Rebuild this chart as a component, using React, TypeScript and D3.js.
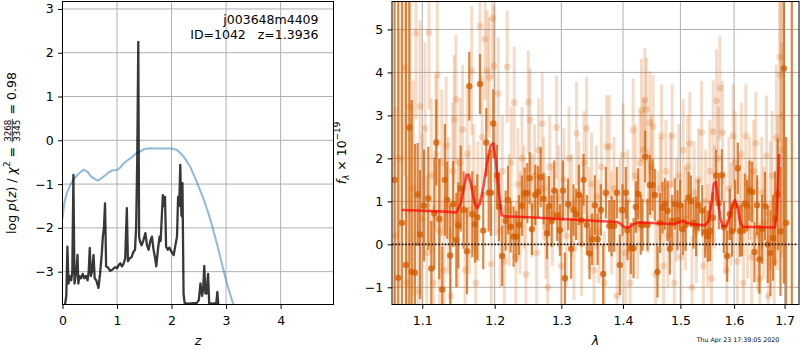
import React, { useEffect, useRef } from "react";
import * as d3 from "d3";

const FONT = "'DejaVu Sans', Verdana, sans-serif";
const FS = 12.5;
const ORANGE = "#d55e00";

// ---------- tick values ----------
const zTicks = [0, 1, 2, 3, 4];
const pzTicks = [-3, -2, -1, 0, 1, 2, 3];
const lamTicks = [1.1, 1.2, 1.3, 1.4, 1.5, 1.6, 1.7];
const fluxTicks = [-1, 0, 1, 2, 3, 4, 5];

// ---------- left panel: log p(z) ----------
const zPz = [
  0.03, 0.05, 0.07, 0.09, 0.11, 0.13, 0.16, 0.18, 0.2, 0.22,
  0.24, 0.26, 0.275, 0.29, 0.31, 0.34, 0.37, 0.4, 0.43, 0.46,
  0.48, 0.5, 0.52, 0.54, 0.57, 0.59, 0.62, 0.66, 0.69, 0.72,
  0.74, 0.76, 0.78, 0.8, 0.83, 0.875, 0.92, 0.96, 1.0, 1.03,
  1.06, 1.09, 1.12, 1.15, 1.18, 1.2, 1.23, 1.27, 1.3, 1.33,
  1.35, 1.37, 1.39, 1.405, 1.42, 1.45, 1.48, 1.52, 1.55, 1.58,
  1.61, 1.64, 1.67, 1.7, 1.72, 1.75, 1.78, 1.8, 1.84, 1.86,
  1.88, 1.9, 1.93, 1.96, 2.0, 2.04, 2.07, 2.1, 2.12, 2.14,
  2.16, 2.18, 2.19, 2.2, 2.22, 2.24, 2.3, 2.4, 2.46, 2.5,
  2.53, 2.56, 2.58, 2.6, 2.62, 2.64, 2.67, 2.69, 2.75, 2.82,
  2.84, 2.86, 2.9,
];
const logPz = [
  -3.9, -3.72, -3.55, -2.43, -3.27, -3.1, -3.2, -3.0, -0.79, -3.27,
  -3.1, -2.9, -2.62, -3.27, -3.1, -3.15, -3.05, -3.15, -3.1, -3.2,
  -3.0, -2.46, -3.1, -3.0, -2.62, -3.15, -3.2, -3.37, -3.04, -2.6,
  -2.2, -2.0, -1.44, -2.88, -2.9, -2.98, -2.95, -2.9, -2.92, -2.85,
  -2.81, -2.88, -2.82, -2.7, -1.55, -2.76, -2.7, -2.66, -2.55, -2.5,
  -2.0, -0.5, 2.25, -2.2, -2.3, -2.4, -2.3, -2.12, -2.4, -2.5,
  -2.3, -2.2, -2.5, -2.7, -2.88, -2.5, -2.2, -2.3, -1.25, -1.5,
  -1.29, -2.43, -2.5, -2.45, -2.55, -2.62, -2.4, -2.2, -1.29, -1.5,
  -0.56, -1.7, -1.74, -0.98, -3.5, -3.72, -3.73, -3.72, -3.72, -3.65,
  -3.27, -3.55, -3.4, -2.87, -3.5, -3.5, -3.05, -3.72, -3.73, -3.72,
  -3.46, -3.8, -4.5,
];

// ---------- left panel: chi2 curve ----------
const zChi = [
  0.0, 0.03, 0.08, 0.17, 0.23, 0.3, 0.386, 0.46, 0.52, 0.57,
  0.65, 0.72, 0.784, 0.85, 0.907, 0.998, 1.06, 1.12, 1.2, 1.27,
  1.35, 1.43, 1.5, 1.6, 1.73, 1.85, 2.0, 2.1, 2.22, 2.34,
  2.47, 2.59, 2.71, 2.83, 2.925, 3.016, 3.09, 3.17, 3.25,
];
const chiCurve = [
  -1.8, -1.45, -1.2, -0.95, -0.85, -0.76, -0.67, -0.72, -0.82, -0.87,
  -0.92, -0.86, -0.8, -0.73, -0.69, -0.68, -0.62, -0.53, -0.45, -0.39,
  -0.3, -0.25, -0.2, -0.18, -0.19, -0.19, -0.19, -0.22, -0.37, -0.6,
  -0.97, -1.35, -1.8, -2.35, -2.83, -3.27, -3.58, -3.9, -4.2,
];

// ---------- right panel: dark (binned) spectrum ----------
const lamDark = [
  1.064, 1.0687, 1.0735, 1.0787, 1.083, 1.0861, 1.0904, 1.0939, 1.097, 1.1022,
  1.108, 1.112, 1.116, 1.1187, 1.1227, 1.1267, 1.1303, 1.1335, 1.1376, 1.1417,
  1.1459, 1.1486, 1.152, 1.156, 1.1607, 1.1639, 1.1681, 1.1719, 1.1751, 1.179,
  1.1836, 1.1879, 1.1913, 1.1946, 1.1979, 1.2033, 1.2061, 1.2109, 1.2159, 1.2193,
  1.2232, 1.2276, 1.2315, 1.2355, 1.2399, 1.244, 1.2479, 1.2515, 1.2549, 1.2599,
  1.264, 1.2681, 1.2727, 1.2777, 1.2808, 1.285, 1.289, 1.2936, 1.2978, 1.3025,
  1.3056, 1.3108, 1.3155, 1.3193, 1.3234, 1.3277, 1.332, 1.3352, 1.3405, 1.3449,
  1.3491, 1.3535, 1.3579, 1.3633, 1.3671, 1.3715, 1.377, 1.3809, 1.3852, 1.3897,
  1.3947, 1.3992, 1.4048, 1.4077, 1.4133, 1.4179, 1.4218, 1.4257, 1.4303, 1.4333,
  1.4378, 1.4419, 1.4459, 1.4506, 1.4546, 1.4593, 1.4639, 1.4681, 1.4722, 1.477,
  1.4811, 1.4852, 1.49, 1.4948, 1.4995, 1.5044, 1.5093, 1.5147, 1.5189, 1.5238,
  1.5286, 1.533, 1.5397, 1.5452, 1.5502, 1.5545, 1.5596, 1.5657, 1.5708, 1.5765,
  1.5803, 1.5866, 1.5917, 1.5961, 1.6019, 1.6071, 1.6115, 1.6154, 1.6206, 1.6251,
  1.6298, 1.6349, 1.6396, 1.6447, 1.6495, 1.6547, 1.6606, 1.666, 1.6714, 1.6766,
  1.6807, 1.6861, 1.6916, 1.6984, 1.7031, 1.7148,
];
const fluxDark = [
  1.5, -0.78, 0.5, -0.48, 2.72, -0.64, -0.66, 1.16, 0.23, 0.9,
  1.07, -0.56, 0.72, 2.37, 0.59, -1.05, 1.5, 1.03, -0.26, 0.94,
  0.1, 0.44, 1.3, 0.8, -0.16, 3.68, 0.7, 0.47, 0.63, 3.73,
  0.32, 2.37, 1.2, 1.2, 2.81, 1.61, 0.87, -0.27, 0.55, 1.03,
  0.41, 0.18, 0.18, 0.45, 0.9, 1.19, 1.19, 1.54, 0.35, 1.15,
  1.22, 1.56, 1.06, 0.26, 0.89, 0.54, 1.25, 0.68, 0.33, 1.25,
  -0.79, 0.93, -0.1, 0.8, 0.7, 1.15, 0.56, 1.5, 0.45, -0.21,
  0.12, 0.91, 0.12, 0.8, -0.69, 1.2, 0.43, 0.42, 0.43, 1.2,
  -0.48, 0.8, 1.2, 0.33, -0.09, -0.09, 0.87, 1.17, 0.46, 0.45,
  2.04, 0.45, 1.38, 1.38, 1.15, -0.64, 0.5, 0.85, 0.94, 0.78,
  -0.1, 0.55, 0.94, 0.56, 0.91, 0.35, 0.45, 1.09, 1.0, 0.5,
  0.42, 0.91, 0.78, 0.29, 0.19, 0.31, 0.62, 1.6, 0.95, 1.61,
  0.4, -0.27, 0.7, 0.31, 0.9, 1.77, 0.31, 0.32, 0.95, 0.9,
  1.25, 1.22, -0.18, 0.91, -0.35, 0.35, 0.89, 0.0, -0.2, 0.15,
  0.6, 1.16, 0.3, 4.09, 0.5, 6.5,
];
const errDark = [
  8, 8, 8, 8, 6, 4, 3, 1.2, 1.5, 1.3,
  1.2, 1.1, 1.3, 1.0, 1.4, 1.0, 1.3, 0.9, 1.2, 1.0,
  1.1, 1.0, 1.0, 0.9, 1.0, 0.8, 1.0, 0.9, 1.0, 0.7,
  0.9, 0.8, 0.9, 1.0, 0.8, 0.7, 0.8, 0.7, 0.7, 0.8,
  0.6, 0.7, 0.6, 0.7, 0.7, 0.6, 0.7, 0.6, 0.6, 0.7,
  0.6, 0.7, 0.6, 0.6, 0.7, 0.6, 0.7, 0.6, 0.6, 0.7,
  0.6, 0.6, 0.7, 0.6, 0.6, 0.7, 0.6, 0.6, 0.7, 0.6,
  0.6, 0.7, 0.6, 0.6, 0.7, 0.6, 0.6, 0.7, 0.6, 0.6,
  0.7, 0.6, 0.6, 0.7, 0.6, 0.7, 0.6, 0.6, 0.7, 0.6,
  0.6, 0.6, 0.7, 0.6, 0.6, 0.6, 0.7, 0.6, 0.6, 0.7,
  0.6, 0.6, 0.6, 0.7, 0.6, 0.6, 0.6, 0.6, 0.6, 0.6,
  0.7, 0.6, 0.6, 0.6, 0.6, 0.7, 0.6, 0.6, 0.6, 0.6,
  0.6, 0.6, 0.6, 0.6, 0.6, 0.6, 0.6, 0.6, 0.7, 0.6,
  0.7, 0.7, 0.7, 0.7, 0.8, 0.8, 0.8, 0.9, 1.0, 1.0,
  1.1, 1.3, 1.5, 5, 2.0, 9,
];

// ---------- right panel: light (unbinned) spectrum ----------
const lamLight = [
  1.065, 1.07, 1.0774, 1.08, 1.0839, 1.088, 1.0917, 1.095, 1.097, 1.1,
  1.1036, 1.106, 1.1089, 1.112, 1.115, 1.118, 1.12, 1.123, 1.126, 1.129,
  1.132, 1.135, 1.138, 1.141, 1.143, 1.1454, 1.148, 1.151, 1.1547, 1.158,
  1.161, 1.164, 1.1672, 1.17, 1.173, 1.176, 1.179, 1.182, 1.1861, 1.1893,
  1.1922, 1.195, 1.1971, 1.199, 1.202, 1.2051, 1.208, 1.211, 1.214, 1.2182,
  1.221, 1.224, 1.2285, 1.231, 1.234, 1.237, 1.24, 1.243, 1.246, 1.2494,
  1.252, 1.255, 1.259, 1.262, 1.265, 1.2705, 1.273, 1.276, 1.279, 1.282,
  1.286, 1.2926, 1.296, 1.3, 1.304, 1.308, 1.312, 1.316, 1.32, 1.3241,
  1.328, 1.332, 1.336, 1.3401, 1.344, 1.348, 1.352, 1.356, 1.36, 1.364,
  1.369, 1.3728, 1.377, 1.381, 1.385, 1.39, 1.395, 1.4002, 1.404, 1.408,
  1.412, 1.4172, 1.421, 1.425, 1.429, 1.4315, 1.435, 1.4372, 1.44, 1.443,
  1.4459, 1.449, 1.4516, 1.456, 1.46, 1.464, 1.4664, 1.47, 1.474, 1.478,
  1.482, 1.4852, 1.489, 1.493, 1.497, 1.501, 1.5049, 1.509, 1.513, 1.5171,
  1.521, 1.525, 1.529, 1.533, 1.5386, 1.542, 1.546, 1.55, 1.554, 1.557,
  1.5602, 1.563, 1.5666, 1.57, 1.5728, 1.5779, 1.582, 1.586, 1.59, 1.594,
  1.598, 1.602, 1.606, 1.61, 1.614, 1.618, 1.6226, 1.626, 1.63, 1.634,
  1.638, 1.6422, 1.646, 1.65, 1.654, 1.658, 1.6634, 1.667, 1.671, 1.675,
  1.679, 1.6835, 1.686, 1.6902, 1.6915, 1.694, 1.696,
];
const fluxLight = [
  0.2, 2.0, 4.1, -0.9, 3.2, 1.3, 4.91, -1.1, 3.21, 0.6,
  2.7, -0.2, 4.93, 1.6, -0.9, 2.1, 3.94, 0.3, 1.9, -0.6,
  2.3, 0.9, -1.2, 1.7, 2.9, 3.37, 0.5, 1.9, 2.67, -0.6,
  2.1, 0.8, 4.04, 1.3, -0.9, 1.0, 5.08, 2.5, 4.77, 4.04,
  3.88, -0.46, 5.26, 4.15, 1.5, 3.51, 0.3, 1.7, -0.4, 4.13,
  0.8, 1.9, 3.3, -0.3, 1.4, 0.5, 2.0, 1.1, -0.7, 3.31,
  2.89, 0.9, 1.6, -0.2, 2.2, 2.81, 1.3, 0.4, -1.0, 1.8,
  0.7, 2.72, 1.1, -0.5, 1.5, 0.2, 2.0, 0.9, -0.1, 2.58,
  1.2, 0.0, 1.9, 2.7, 0.6, 1.4, -0.6, 1.1, 0.3, 1.8,
  -0.9, 2.27, 2.27, 0.5, 1.3, -1.2, 0.8, 2.08, -0.2, 1.0,
  -0.9, 2.66, 1.6, 0.4, 1.9, 3.12, 2.2, 3.36, 3.14, 1.0,
  2.83, 1.8, 2.74, -0.7, 0.5, 1.3, 2.52, -0.5, 1.7, 0.2,
  1.4, 2.52, -0.9, 0.8, 1.6, -0.3, 2.19, 0.6, 1.8, 2.35,
  -1.0, 1.2, 0.3, 1.5, 2.6, -0.5, 1.0, 0.2, 1.7, -0.8,
  2.62, 1.1, 3.34, 2.0, 3.64, 2.6, 0.5, -0.6, 1.3, 0.7,
  2.52, 1.9, -0.4, 0.9, 2.1, -0.9, 2.52, 0.4, 1.3, -0.3,
  1.7, 2.35, 0.2, -0.8, 1.2, 0.5, 2.06, -1.2, 0.9, 1.6,
  -0.4, 2.48, 1.2, 4.36, 3.94, 2.2, 3.0,
];
const errLight = [
  3.0, 3.0, 2.5, 2.5, 2.5, 2.5, 2.0, 2.0, 2.0, 2.0,
  2.0, 1.8, 1.8, 1.8, 1.8, 1.8, 1.7, 1.7, 1.7, 1.6,
  1.6, 1.6, 1.6, 1.6, 1.5, 1.5, 1.5, 1.5, 1.5, 1.5,
  1.5, 1.5, 1.5, 1.5, 1.4, 1.4, 1.4, 1.4, 1.4, 1.4,
  1.4, 1.4, 1.4, 1.4, 1.3, 1.3, 1.3, 1.3, 1.3, 1.3,
  1.3, 1.3, 1.3, 1.3, 1.3, 1.2, 1.2, 1.2, 1.2, 1.2,
  1.2, 1.2, 1.2, 1.2, 1.2, 1.2, 1.2, 1.2, 1.2, 1.2,
  1.2, 1.2, 1.2, 1.2, 1.2, 1.2, 1.2, 1.2, 1.2, 1.2,
  1.2, 1.2, 1.2, 1.2, 1.2, 1.2, 1.2, 1.2, 1.2, 1.2,
  1.2, 1.2, 1.2, 1.2, 1.2, 1.2, 1.2, 1.2, 1.2, 1.2,
  1.2, 1.2, 1.2, 1.2, 1.2, 1.2, 1.2, 1.2, 1.2, 1.2,
  1.2, 1.2, 1.2, 1.2, 1.2, 1.2, 1.2, 1.2, 1.2, 1.2,
  1.2, 1.2, 1.2, 1.2, 1.2, 1.2, 1.2, 1.2, 1.2, 1.2,
  1.2, 1.2, 1.2, 1.2, 1.2, 1.2, 1.2, 1.2, 1.2, 1.2,
  1.2, 1.2, 1.2, 1.2, 1.2, 1.2, 1.2, 1.2, 1.2, 1.2,
  1.2, 1.2, 1.2, 1.2, 1.2, 1.2, 1.2, 1.2, 1.2, 1.2,
  1.2, 1.2, 1.3, 1.3, 1.3, 1.3, 1.4, 1.4, 1.5, 1.5,
  1.6, 1.7, 1.8, 2.0, 2.2, 2.5, 3.0,
];

// ---------- right panel: model ----------
const lamModel = [
  1.073, 1.1, 1.13, 1.146, 1.152, 1.157, 1.16, 1.163, 1.167, 1.171,
  1.175, 1.179, 1.184, 1.189, 1.194, 1.198, 1.202, 1.206, 1.21, 1.215,
  1.25, 1.3, 1.35, 1.39, 1.396, 1.402, 1.41, 1.418, 1.425, 1.46,
  1.49, 1.498, 1.505, 1.512, 1.52, 1.545, 1.552, 1.557, 1.561, 1.565,
  1.569, 1.574, 1.578, 1.585, 1.592, 1.597, 1.602, 1.607, 1.612, 1.617,
  1.65, 1.68, 1.684, 1.687, 1.689,
];
const fluxModel = [
  0.8, 0.78, 0.76, 0.74, 0.95, 1.35, 1.62, 1.62, 1.35, 0.98,
  0.84, 0.95, 1.35, 1.9, 2.3, 2.35, 1.9, 1.2, 0.68, 0.65,
  0.63, 0.59, 0.55, 0.52, 0.48, 0.4, 0.39, 0.47, 0.51, 0.49,
  0.47, 0.52, 0.55, 0.5, 0.47, 0.44, 0.55, 0.95, 1.4, 1.45,
  1.1, 0.6, 0.42, 0.42, 0.65, 0.95, 1.03, 0.85, 0.5, 0.41,
  0.4, 0.39, 0.7, 1.5, 2.1,
];

type Piece =
  | { t: string; it?: boolean; sc?: number; dy?: number }
  | { num: string; den: string };

function mathLabel(svg: any, pieces: Piece[], cx: number, cy: number) {
  const outer = svg.append("g").attr("transform", `translate(${cx},${cy}) rotate(-90)`);
  const inner = outer.append("g");
  let x = 0;
  for (const p of pieces) {
    if ("num" in p) {
      const sf = FS * 0.7;
      const axisY = -0.3 * FS;
      const tn = inner.append("text").text(p.num).attr("font-size", sf).attr("font-family", FONT);
      const td = inner.append("text").text(p.den).attr("font-size", sf).attr("font-family", FONT);
      const wn = (tn.node() as SVGTextElement).getComputedTextLength();
      const wd = (td.node() as SVGTextElement).getComputedTextLength();
      const w = Math.max(wn, wd);
      const pad = 1.2;
      tn.attr("x", x + pad + (w - wn) / 2).attr("y", axisY - 1.6);
      td.attr("x", x + pad + (w - wd) / 2).attr("y", axisY + 1.6 + 0.73 * sf);
      inner.append("line").attr("x1", x + pad * 0.5).attr("x2", x + w + pad * 1.5)
        .attr("y1", axisY).attr("y2", axisY).attr("stroke", "#000").attr("stroke-width", 0.8);
      x += w + 2 * pad;
    } else {
      const fs = FS * (p.sc ?? 1);
      const t = inner.append("text").text(p.t).attr("x", x).attr("y", p.dy ?? 0)
        .attr("font-size", fs).attr("font-family", FONT)
        .attr("font-style", p.it ? "italic" : "normal")
        .style("white-space", "pre");
      x += (t.node() as SVGTextElement).getComputedTextLength();
    }
  }
  inner.attr("transform", `translate(${-x / 2},0)`);
}

export default function App() {
  const ref = useRef<SVGSVGElement | null>(null);

  useEffect(() => {
    const node = ref.current;
    if (!node) return;
    const svg = d3.select(node);
    svg.selectAll("*").remove();
    svg.append("rect").attr("width", 800).attr("height", 350).attr("fill", "#fff");
    const defs = svg.append("defs");
    const gridColor = "#b0b0b0";

    const addClip = (id: string, b: any) =>
      defs.append("clipPath").attr("id", id).append("rect")
        .attr("x", b.x0).attr("y", b.y0).attr("width", b.x1 - b.x0).attr("height", b.y1 - b.y0);

    const styleAxis = (g: any) => {
      g.select(".domain").remove();
      g.attr("font-family", FONT).attr("font-size", FS);
      g.selectAll("text").attr("fill", "#000");
      g.selectAll("line").attr("stroke", "#000").attr("stroke-width", 1);
    };

    // ================= LEFT PANEL =================
    const BL = { x0: 62.5, x1: 333.5, y0: 1.5, y1: 304.5 };
    const xL = d3.scaleLinear().domain([0, 4.97]).range([BL.x0, BL.x1]);
    const yL = d3.scaleLinear().domain([-3.75, 3.17]).range([BL.y1, BL.y0]);
    addClip("clipL", BL);
    const gl = svg.append("g");
    const gridL = gl.append("g");
    zTicks.forEach((t) => gridL.append("line").attr("x1", xL(t)).attr("x2", xL(t)).attr("y1", BL.y0).attr("y2", BL.y1));
    pzTicks.forEach((t) => gridL.append("line").attr("y1", yL(t)).attr("y2", yL(t)).attr("x1", BL.x0).attr("x2", BL.x1));
    gridL.selectAll("line").attr("stroke", gridColor).attr("stroke-width", 1);

    const dataL = gl.append("g").attr("clip-path", "url(#clipL)");
    const chiLine = d3.line<number>().x((_, i) => xL(zChi[i])).y((d) => yL(d));
    dataL.append("path").attr("d", chiLine(chiCurve)).attr("fill", "none")
      .attr("stroke", "#1f77b4").attr("stroke-opacity", 0.5).attr("stroke-width", 2);
    const pzLine = d3.line<number>().x((_, i) => xL(zPz[i])).y((d) => yL(d));
    dataL.append("path").attr("d", pzLine(logPz)).attr("fill", "none")
      .attr("stroke", "#000").attr("stroke-opacity", 0.78).attr("stroke-width", 2.3)
      .attr("stroke-linejoin", "round");

    gl.append("g").attr("transform", `translate(0,${BL.y1})`)
      .call(d3.axisBottom(xL).tickValues(zTicks).tickSize(4.4).tickPadding(7.2).tickFormat(d3.format("d")) as any)
      .call(styleAxis);
    gl.append("g").attr("transform", `translate(${BL.x0},0)`)
      .call(d3.axisLeft(yL).tickValues(pzTicks).tickSize(4.4).tickPadding(4.4).tickFormat(d3.format("d")) as any)
      .call(styleAxis);
    gl.append("rect").attr("x", BL.x0).attr("y", BL.y0).attr("width", BL.x1 - BL.x0).attr("height", BL.y1 - BL.y0)
      .attr("fill", "none").attr("stroke", "#000").attr("stroke-width", 1);

    gl.append("text").attr("x", 318.5).attr("y", 24).attr("text-anchor", "end")
      .attr("font-family", FONT).attr("font-size", FS).text("j003648m4409");
    gl.append("text").attr("x", 318.5).attr("y", 39).attr("text-anchor", "end")
      .attr("font-family", FONT).attr("font-size", FS).style("white-space", "pre").text("ID=1042   z=1.3936");

    gl.append("text").attr("x", (BL.x0 + BL.x1) / 2).attr("y", 345).attr("text-anchor", "middle")
      .attr("font-family", FONT).attr("font-size", FS).attr("font-style", "italic").text("z");

    mathLabel(svg, [
      { t: "log " }, { t: "p", it: true }, { t: "(" }, { t: "z", it: true }, { t: ") / " },
      { t: "χ", it: true }, { t: "2", sc: 0.7, dy: -0.45 * FS }, { t: " = " },
      { num: "3268", den: "3345" }, { t: " = 0.98" },
    ], 16, 153);

    // ================= RIGHT PANEL =================
    const BR = { x0: 392, x1: 799, y0: 1.5, y1: 304.5 };
    const xR = d3.scaleLog().domain([1.0607, 1.7297]).range([BR.x0, BR.x1]);
    const yR = d3.scaleLinear().domain([-1.4, 5.65]).range([BR.y1, BR.y0]);
    addClip("clipR", BR);
    const gr = svg.append("g");
    const gridR = gr.append("g");
    lamTicks.forEach((t) => gridR.append("line").attr("x1", xR(t)).attr("x2", xR(t)).attr("y1", BR.y0).attr("y2", BR.y1));
    fluxTicks.forEach((t) => gridR.append("line").attr("y1", yR(t)).attr("y2", yR(t)).attr("x1", BR.x0).attr("x2", BR.x1));
    gridR.selectAll("line").attr("stroke", gridColor).attr("stroke-width", 1);

    const dataR = gr.append("g").attr("clip-path", "url(#clipR)");
    const gLight = dataR.append("g");
    lamLight.forEach((l, i) => {
      const x = xR(l);
      gLight.append("line").attr("x1", x).attr("x2", x)
        .attr("y1", yR(fluxLight[i] - errLight[i])).attr("y2", yR(fluxLight[i] + errLight[i]))
        .attr("stroke", ORANGE).attr("stroke-opacity", 0.22).attr("stroke-width", 3);
      gLight.append("circle").attr("cx", x).attr("cy", yR(fluxLight[i])).attr("r", 3.4)
        .attr("fill", ORANGE).attr("fill-opacity", 0.22);
    });
    const gDark = dataR.append("g");
    lamDark.forEach((l, i) => {
      const x = xR(l);
      gDark.append("line").attr("x1", x).attr("x2", x)
        .attr("y1", yR(fluxDark[i] - errDark[i])).attr("y2", yR(fluxDark[i] + errDark[i]))
        .attr("stroke", ORANGE).attr("stroke-opacity", 0.75).attr("stroke-width", 2.2);
      gDark.append("circle").attr("cx", x).attr("cy", yR(fluxDark[i])).attr("r", 3.2)
        .attr("fill", ORANGE).attr("fill-opacity", 0.78);
    });
    dataR.append("line").attr("x1", BR.x0).attr("x2", BR.x1 - 2).attr("y1", yR(0)).attr("y2", yR(0))
      .attr("stroke", "#111").attr("stroke-width", 1.8).attr("stroke-dasharray", "1.6,1.7");
    const modelLine = d3.line<number>().x((_, i) => xR(lamModel[i])).y((d) => yR(d));
    dataR.append("path").attr("d", modelLine(fluxModel)).attr("fill", "none")
      .attr("stroke", "red").attr("stroke-opacity", 0.7).attr("stroke-width", 2.6)
      .attr("stroke-linejoin", "round");

    gr.append("g").attr("transform", `translate(0,${BR.y1})`)
      .call(d3.axisBottom(xR).tickValues(lamTicks).tickSize(4.4).tickPadding(7.2).tickFormat(d3.format(".1f")) as any)
      .call(styleAxis);
    gr.append("g").attr("transform", `translate(${BR.x0},0)`)
      .call(d3.axisLeft(yR).tickValues(fluxTicks).tickSize(4.4).tickPadding(4.4).tickFormat(d3.format("d")) as any)
      .call(styleAxis);
    gr.append("rect").attr("x", BR.x0).attr("y", BR.y0).attr("width", BR.x1 - BR.x0).attr("height", BR.y1 - BR.y0)
      .attr("fill", "none").attr("stroke", "#000").attr("stroke-width", 1);

    gr.append("text").attr("x", (BR.x0 + BR.x1) / 2).attr("y", 345).attr("text-anchor", "middle")
      .attr("font-family", FONT).attr("font-size", FS).attr("font-style", "italic").text("λ");

    mathLabel(svg, [
      { t: "f", it: true }, { t: "λ", it: true, sc: 0.7, dy: 0.25 * FS },
      { t: " × 10" }, { t: "−19", sc: 0.7, dy: -0.45 * FS },
    ], 345.5, 153);

    svg.append("text").attr("x", 696.7).attr("y", 341.5).attr("font-family", FONT)
      .attr("font-size", 6.25).text("Thu Apr 23 17:39:05 2020");
  }, []);

  return (
    <svg
      ref={ref}
      width={800}
      height={350}
      style={{ position: "absolute", left: 0, top: 0, display: "block" }}
    />
  );
}
